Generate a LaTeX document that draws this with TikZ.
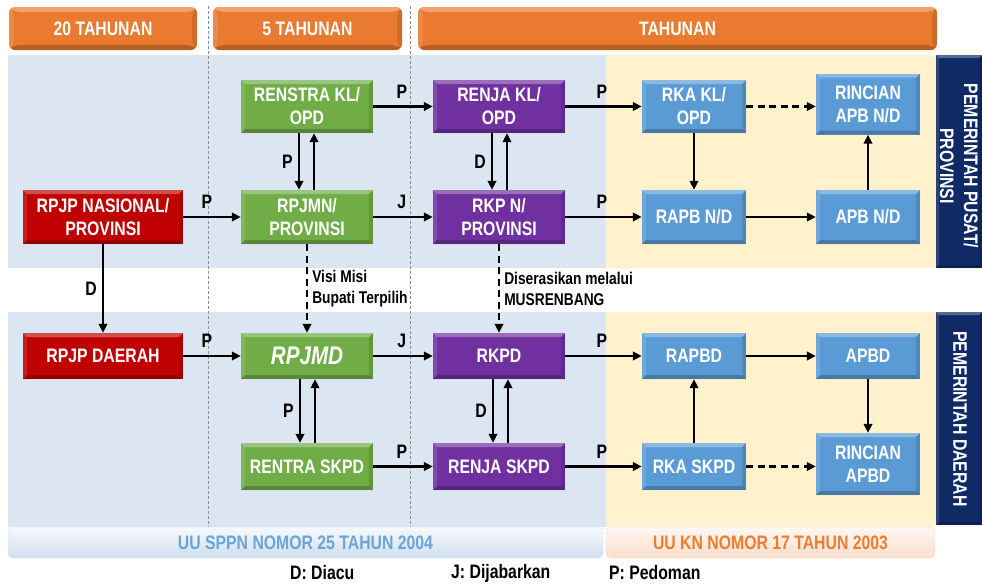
\documentclass[tikz,border=0pt]{standalone}
\usepackage{fontspec}
\setmainfont{Liberation Sans}[FakeStretch=0.81]
\usetikzlibrary{arrows.meta}
\definecolor{cred}{HTML}{C00000}
\definecolor{cgreen}{HTML}{70AD47}
\definecolor{cpurple}{HTML}{7030A0}
\definecolor{cblue}{HTML}{5B9BD5}
\definecolor{corange}{HTML}{E97A30}
\definecolor{bgblue}{HTML}{DCE6F2}
\definecolor{bgyellow}{HTML}{FFF2CC}
\definecolor{cnavy}{HTML}{102A66}
\definecolor{uublue}{HTML}{6AA5DA}
\definecolor{uuorange}{HTML}{ED7D31}
\tikzset{
  bev/.style={path picture={
    \coordinate (bSW) at (path picture bounding box.south west);
    \coordinate (bNE) at (path picture bounding box.north east);
    \coordinate (bNW) at (path picture bounding box.north west);
    \coordinate (bSE) at (path picture bounding box.south east);
    \fill[white,opacity=0.30] (bNW) -- (bNE) -- ([xshift=-#1,yshift=-#1]bNE) -- ([xshift=#1,yshift=-#1]bNW) -- cycle;
    \fill[white,opacity=0.12] (bSW) -- (bNW) -- ([xshift=#1,yshift=-#1]bNW) -- ([xshift=#1,yshift=#1]bSW) -- cycle;
    \fill[black,opacity=0.22] (bSW) -- (bSE) -- ([xshift=-#1,yshift=#1]bSE) -- ([xshift=#1,yshift=#1]bSW) -- cycle;
    \fill[black,opacity=0.12] (bSE) -- (bNE) -- ([xshift=-#1,yshift=-#1]bNE) -- ([xshift=-#1,yshift=#1]bSE) -- cycle;
  }},
  bev/.default=4pt,
  box/.style={rectangle, inner sep=0pt, text=white, align=center,
    font=\bfseries\fontsize{19.5}{23}\selectfont, bev},
  redbox/.style={box, fill=cred},
  greenbox/.style={box, fill=cgreen},
  purplebox/.style={box, fill=cpurple},
  bluebox/.style={box, fill=cblue},
  hdr/.style={rectangle, rounded corners=6pt, inner sep=0pt, fill=corange, text=white,
    font=\bfseries\fontsize{19.5}{23}\selectfont, bev=5pt, minimum height=43pt},
  navy/.style={rectangle, inner sep=0pt, fill=cnavy, bev=3pt},
  sidelbl/.style={rotate=-90, text=white, align=center, inner sep=0pt,
    font=\bfseries\fontsize{19.5}{24}\selectfont},
  arr/.style={line width=2.5pt, -{Triangle[length=9pt,width=8.5pt]}},
  darr/.style={arr, dash pattern=on 7pt off 4.5pt},
  lbl/.style={font=\bfseries\fontsize{19.5}{22}\selectfont, inner sep=0pt, text=black},
  note/.style={font=\bfseries\fontsize{17}{21}\selectfont, inner sep=0pt, align=left, text=black},
  legend/.style={font=\bfseries\fontsize{19.5}{22}\selectfont, inner sep=0pt, anchor=west},
  sep/.style={draw=black!45, line width=0.8pt, dash pattern=on 3pt off 2pt},
  ubar/.style={rectangle, rounded corners=5pt, inner sep=0pt, minimum height=31pt, draw=black!12,
    font=\bfseries\fontsize{19.5}{22}\selectfont},
}
\begin{document}
\begin{tikzpicture}[x=1pt,y=-1pt]
\useasboundingbox (0,0) rectangle (982,584);
% backgrounds
\fill[bgblue] (8,55) rectangle (606,268);
\fill[bgyellow] (606,55) rectangle (936,268);
\fill[bgblue] (8,312) rectangle (606,527);
\fill[bgyellow] (606,312) rectangle (936,527);
\node[navy, minimum width=46pt, minimum height=213pt] (nv1) at (959,161.5) {};
\node[navy, minimum width=46pt, minimum height=213pt] (nv2) at (959,418.5) {};
\node[sidelbl] (pusat) at (959,166) {PEMERINTAH PUSAT/\\PROVINSI};
\node[sidelbl] (daerah) at (960,419) {PEMERINTAH DAERAH};
% separators
\coordinate (s1t) at (208,6); \coordinate (s1b) at (208,527);
\coordinate (s2t) at (410,6); \coordinate (s2b) at (410,527);
\draw[sep] (s1t) -- (s1b);
\draw[sep] (s2t) -- (s2b);
% headers
\node[hdr, minimum width=188pt] (h20) at (103,28.5) {20 TAHUNAN};
\node[hdr, minimum width=189pt] (h5) at (307.5,28.5) {5 TAHUNAN};
\node[hdr, minimum width=519pt] (ht) at (677.5,28.5) {TAHUNAN};
% bottom bars
\node[ubar, minimum width=595pt, top color=white!75!bgblue, bottom color=bgblue!90!cblue, text=uublue] (uu1) at (305.5,542.5) {UU SPPN NOMOR 25 TAHUN 2004};
\node[ubar, minimum width=329pt, top color=white!70!uuorange!20, bottom color=uuorange!25, text=uuorange] (uu2) at (770.5,542.5) {UU KN NOMOR 17 TAHUN 2003};
% legend
\node[legend] (lgD) at (290,573) {D: Diacu};
\node[legend] (lgJ) at (451,573) {J: Dijabarkan};
\node[legend] (lgP) at (609,573) {P: Pedoman};
% row 1
\node[greenbox, minimum width=132pt, minimum height=53pt] (renstra) at (307,106.5) {RENSTRA KL/\\OPD};
\node[purplebox, minimum width=132pt, minimum height=53pt] (renja) at (499,106.5) {RENJA KL/\\OPD};
\node[bluebox, minimum width=104pt, minimum height=53pt] (rkakl) at (694,106.5) {RKA KL/\\OPD};
\node[bluebox, minimum width=104pt, minimum height=61pt] (rincn) at (868,104) {RINCIAN\\APB N/D};
% row 2
\node[redbox, minimum width=160pt, minimum height=54pt] (rpjpn) at (103,217) {RPJP NASIONAL/\\PROVINSI};
\node[greenbox, minimum width=132pt, minimum height=54pt] (rpjmn) at (307,217) {RPJMN/\\PROVINSI};
\node[purplebox, minimum width=132pt, minimum height=54pt] (rkpn) at (499,217) {RKP N/\\PROVINSI};
\node[bluebox, minimum width=104pt, minimum height=54pt] (rapbn) at (694,217) {RAPB N/D};
\node[bluebox, minimum width=104pt, minimum height=54pt] (apbn) at (868,217) {APB N/D};
% row 3
\node[redbox, minimum width=160pt, minimum height=46pt] (rpjpd) at (103,356) {RPJP DAERAH};
\node[greenbox, minimum width=132pt, minimum height=46pt, font=\bfseries\itshape\fontsize{25.5}{28}\selectfont] (rpjmd) at (307,356) {RPJMD};
\node[purplebox, minimum width=132pt, minimum height=46pt] (rkpd) at (499,356) {RKPD};
\node[bluebox, minimum width=104pt, minimum height=46pt] (rapbd) at (694,356) {RAPBD};
\node[bluebox, minimum width=104pt, minimum height=46pt] (apbd) at (868,356) {APBD};
% row 4
\node[greenbox, minimum width=132pt, minimum height=47pt] (rentra) at (307,466.5) {RENTRA SKPD};
\node[purplebox, minimum width=132pt, minimum height=47pt] (renjas) at (499,466.5) {RENJA SKPD};
\node[bluebox, minimum width=104pt, minimum height=47pt] (rkas) at (694,466.5) {RKA SKPD};
\node[bluebox, minimum width=104pt, minimum height=62pt] (rincd) at (868,464) {RINCIAN\\APBD};
% horizontal arrows
\draw[arr] (renstra) -- node[lbl, pos=0.48, above=7pt] {P} (renja);
\draw[arr] (renja) -- node[lbl, pos=0.48, above=7pt] {P} (rkakl);
\draw[darr] (rkakl.east) -- (rkakl.east -| rincn.west);
\draw[arr] (rpjpn) -- node[lbl, pos=0.41, above=7pt] {P} (rpjmn);
\draw[arr] (rpjmn) -- node[lbl, pos=0.48, above=7pt] {J} (rkpn);
\draw[arr] (rkpn) -- node[lbl, pos=0.48, above=7pt] {P} (rapbn);
\draw[arr] (rapbn) -- (apbn);
\draw[arr] (rpjpd) -- node[lbl, pos=0.41, above=7pt] {P} (rpjmd);
\draw[arr] (rpjmd) -- node[lbl, pos=0.48, above=7pt] {J} (rkpd);
\draw[arr] (rkpd) -- node[lbl, pos=0.48, above=7pt] {P} (rapbd);
\draw[arr] (rapbd) -- (apbd);
\draw[arr] (rentra) -- node[lbl, pos=0.48, above=7pt] {P} (renjas);
\draw[arr] (renjas) -- node[lbl, pos=0.48, above=7pt] {P} (rkas);
\draw[darr] (rkas.east) -- (rkas.east -| rincd.west);
% vertical arrows
\draw[arr] ([xshift=-8pt]renstra.south) -- node[lbl, left=5pt] {P} ([xshift=-8pt]rpjmn.north);
\draw[arr] ([xshift=7pt]rpjmn.north) -- ([xshift=7pt]renstra.south);
\draw[arr] ([xshift=-7pt]renja.south) -- node[lbl, left=5pt] {D} ([xshift=-7pt]rkpn.north);
\draw[arr] ([xshift=8pt]rkpn.north) -- ([xshift=8pt]renja.south);
\draw[arr] ([xshift=-7pt]rpjmd.south) -- node[lbl, left=5pt] {P} ([xshift=-7pt]rentra.north);
\draw[arr] ([xshift=8pt]rentra.north) -- ([xshift=8pt]rpjmd.south);
\draw[arr] ([xshift=-6pt]rkpd.south) -- node[lbl, left=5pt] {D} ([xshift=-6pt]renjas.north);
\draw[arr] ([xshift=9pt]renjas.north) -- ([xshift=9pt]rkpd.south);
\draw[arr] (rpjpn) -- node[lbl, left=5pt] {D} (rpjpd);
\draw[darr] (rpjmn) -- node[note, right=4pt] {Visi Misi\\Bupati Terpilih} (rpjmd);
\draw[darr] (rkpn) -- node[note, right=4pt] {Diserasikan melalui\\MUSRENBANG} (rkpd);
\draw[arr] (rkakl) -- (rapbn);
\draw[arr] (apbn) -- (rincn);
\draw[arr] (apbd) -- (rincd);
\draw[arr] (rkas) -- (rapbd);
\end{tikzpicture}
\end{document}
